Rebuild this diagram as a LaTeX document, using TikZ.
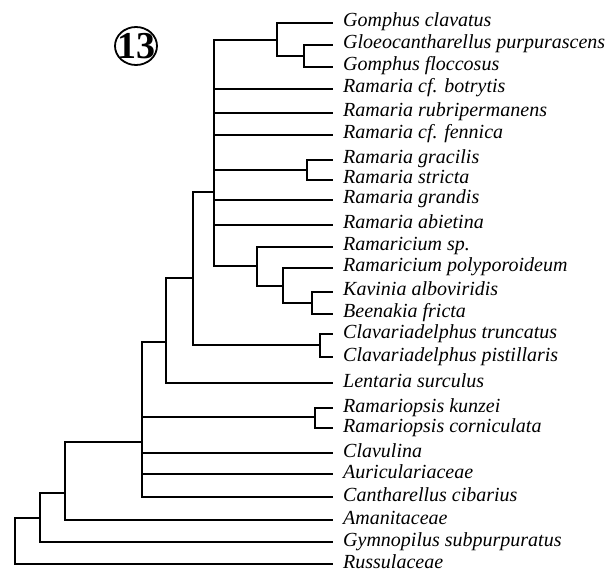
\documentclass[tikz,border=0pt]{standalone}
\usepackage{fontspec}
\newfontfamily\numfont{Liberation Serif}
\newfontfamily\taxfont{Liberation Serif}
\begin{document}
\begin{tikzpicture}[x=1pt,y=-1pt,
  branch/.style={line width=2.3pt,line join=miter},
  taxon/.style={anchor=base west,inner sep=0pt,font=\taxfont\fontsize{20}{22}\selectfont\itshape,xshift=10pt,yshift=-4pt}]
\useasboundingbox (0,0) rectangle (611,572);
% leaf tips
\foreach \n/\y in {1/23,2/45,3/67,4/89,5/113,6/135,7/160,8/180,9/200,10/225,11/247,12/268,13/292,14/314,15/334,16/357,17/383,18/408,19/428,20/453,21/474,22/497,23/520,24/542,25/564}
  \coordinate (t\n) at (333,\y);
% labels
\node[taxon] (l1) at (t1) {Gomphus clavatus};
\node[taxon] (l2) at (t2) {Gloeocantharellus purpurascens};
\node[taxon] (l3) at (t3) {Gomphus floccosus};
\node[taxon] (l4) at (t4) {Ramaria cf. botrytis};
\node[taxon] (l5) at (t5) {Ramaria rubripermanens};
\node[taxon] (l6) at (t6) {Ramaria cf. fennica};
\node[taxon] (l7) at (t7) {Ramaria gracilis};
\node[taxon] (l8) at (t8) {Ramaria stricta};
\node[taxon] (l9) at (t9) {Ramaria grandis};
\node[taxon] (l10) at (t10) {Ramaria abietina};
\node[taxon] (l11) at (t11) {Ramaricium sp.};
\node[taxon] (l12) at (t12) {Ramaricium polyporoideum};
\node[taxon] (l13) at (t13) {Kavinia alboviridis};
\node[taxon] (l14) at (t14) {Beenakia fricta};
\node[taxon] (l15) at (t15) {Clavariadelphus truncatus};
\node[taxon] (l16) at (t16) {Clavariadelphus pistillaris};
\node[taxon] (l17) at (t17) {Lentaria surculus};
\node[taxon] (l18) at (t18) {Ramariopsis kunzei};
\node[taxon] (l19) at (t19) {Ramariopsis corniculata};
\node[taxon] (l20) at (t20) {Clavulina};
\node[taxon] (l21) at (t21) {Auriculariaceae};
\node[taxon] (l22) at (t22) {Cantharellus cibarius};
\node[taxon] (l23) at (t23) {Amanitaceae};
\node[taxon] (l24) at (t24) {Gymnopilus subpurpuratus};
\node[taxon] (l25) at (t25) {Russulaceae};
% internal nodes
\coordinate (nA) at (304,56);
\coordinate (nB) at (277,40);
\coordinate (nC) at (214,192);
\coordinate (nE) at (307,170);
\coordinate (nD) at (257,266);
\coordinate (nF) at (283,286);
\coordinate (nG) at (312,303);
\coordinate (nH) at (320,345);
\coordinate (nI) at (193,278);
\coordinate (nJ) at (166,342);
\coordinate (nR) at (315,417);
\coordinate (nK) at (142,442);
\coordinate (nL) at (65,493);
\coordinate (nM) at (40,518);
\coordinate (nN) at (15,541);
% branches
\draw[branch] (nA) |- (t2); \draw[branch] (nA) |- (t3);
\draw[branch] (nB) |- (t1); \draw[branch] (nB) |- (nA);
\draw[branch] (nE) |- (t7); \draw[branch] (nE) |- (t8);
\draw[branch] (nG) |- (t13); \draw[branch] (nG) |- (t14);
\draw[branch] (nF) |- (t12); \draw[branch] (nF) |- (nG);
\draw[branch] (nD) |- (t11); \draw[branch] (nD) |- (nF);
\draw[branch] (nC) |- (nB); \draw[branch] (nC) |- (t4); \draw[branch] (nC) |- (t5);
\draw[branch] (nC) |- (t6); \draw[branch] (nC) |- (nE); \draw[branch] (nC) |- (t9);
\draw[branch] (nC) |- (t10); \draw[branch] (nC) |- (nD);
\draw[branch] (nH) |- (t15); \draw[branch] (nH) |- (t16);
\draw[branch] (nI) |- (nC); \draw[branch] (nI) |- (nH);
\draw[branch] (nJ) |- (nI); \draw[branch] (nJ) |- (t17);
\draw[branch] (nR) |- (t18); \draw[branch] (nR) |- (t19);
\draw[branch] (nK) |- (nJ); \draw[branch] (nK) |- (nR); \draw[branch] (nK) |- (t20);
\draw[branch] (nK) |- (t21); \draw[branch] (nK) |- (t22);
\draw[branch] (nL) |- (nK); \draw[branch] (nL) |- (t23);
\draw[branch] (nM) |- (nL); \draw[branch] (nM) |- (t24);
\draw[branch] (nN) |- (nM); \draw[branch] (nN) |- (t25);
% figure number
\node[inner sep=0pt] (num) at (136,46) {\numfont\bfseries\fontsize{38}{38}\selectfont 13};
\draw[line width=1.8pt] (num.center) ellipse [x radius=21pt, y radius=19pt];
\end{tikzpicture}
\end{document}
